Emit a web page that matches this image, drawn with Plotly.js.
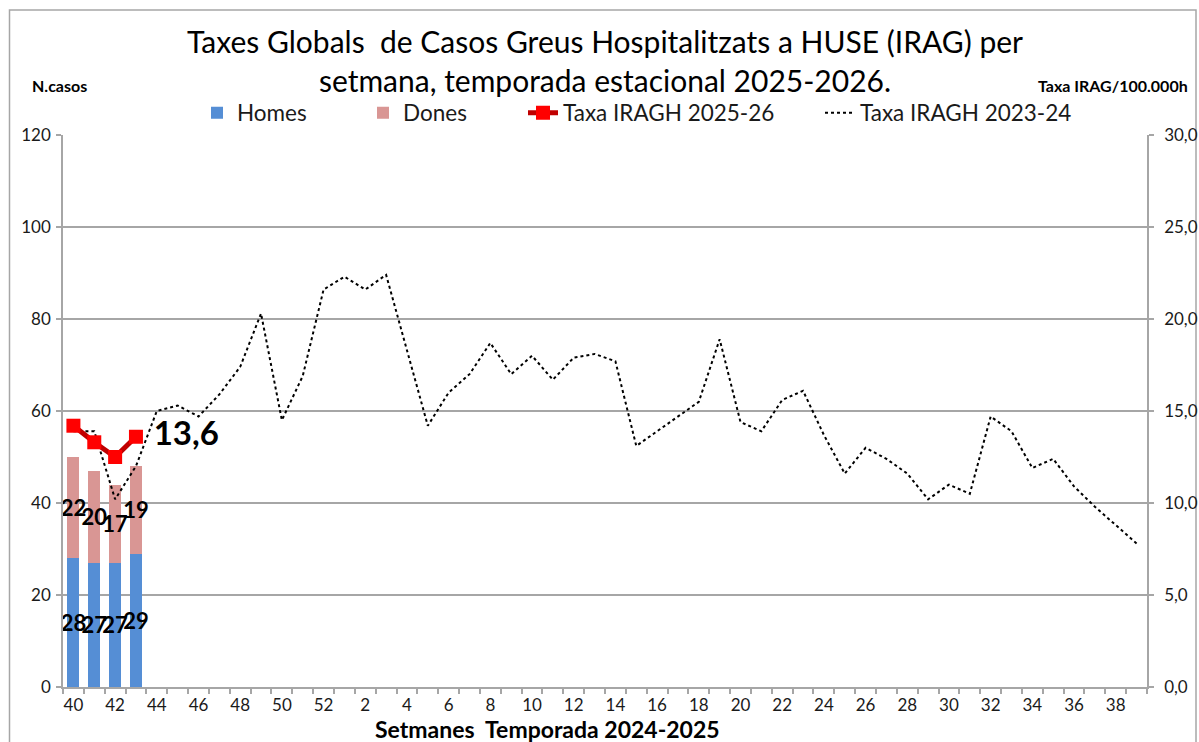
<!DOCTYPE html>
<html>
<head>
<meta charset="utf-8">
<script src="https://cdn.plot.ly/plotly-3.0.1.min.js"></script>
<style>
  html, body { margin: 0; padding: 0; background: #fff; }
  #chart { width: 1199px; height: 742px; }
</style>
</head>
<body>
<div id="chart"></div>
<script>
// ---- Data ----
const weeks = ['40','41','42','43','44','45','46','47','48','49','50','51','52',
  '1','2','3','4','5','6','7','8','9','10','11','12','13','14','15','16','17','18','19','20',
  '21','22','23','24','25','26','27','28','29','30','31','32','33','34','35','36','37','38','39'];
const weeksDone = ['40','41','42','43'];
const homes = [28, 27, 27, 29];
const dones = [22, 20, 17, 19];
const taxa2526 = [14.2, 13.3, 12.5, 13.6];
const taxa2324 = [13.9, 13.9, 10.2, 12.0, 15.0, 15.3, 14.7, 15.9, 17.4, 20.3, 14.5, 16.9, 21.6,
  22.3, 21.6, 22.4, 18.3, 14.2, 16.0, 17.0, 18.7, 17.0, 18.0, 16.7, 17.9, 18.1, 17.7, 13.1, 13.9,
  14.7, 15.5, 18.9, 14.4, 13.9, 15.6, 16.1, 13.7, 11.6, 13.0, 12.4, 11.6, 10.2, 11.0, 10.5, 14.7,
  13.9, 11.9, 12.4, 10.9, 9.8, 8.8, 7.8];
const tickLabels = weeks.map((w, i) => (i % 2 === 0 ? w : ''));

const FONT = 'Lato, "Open Sans", sans-serif';
const labelFont = { family: FONT, size: 22, color: '#000', weight: 'bold' };
const lastLabel = taxa2526.map((v, i) => i === taxa2526.length - 1 ? '\u00a0' + v.toFixed(1).replace('.', ',') : '');

const traces = [
  {
    type: 'bar', name: 'Homes', x: weeksDone, y: homes,
    marker: { color: '#558ed5' },
    text: homes.map(String), textposition: 'inside', insidetextanchor: 'middle',
    textangle: 0, constraintext: 'none', textfont: labelFont,
    legend: 'legend', hoverinfo: 'x+y'
  },
  {
    type: 'bar', name: 'Dones', x: weeksDone, y: dones,
    marker: { color: '#d99694' },
    text: dones.map(String), textposition: 'inside', insidetextanchor: 'middle',
    textangle: 0, constraintext: 'none', textfont: labelFont,
    legend: 'legend2', hoverinfo: 'x+y'
  },
  {
    type: 'scatter', mode: 'lines', name: 'Taxa IRAGH 2023-24', x: weeks, y: taxa2324,
    yaxis: 'y2', line: { color: '#000', width: 2, dash: 'dot' },
    legend: 'legend4'
  },
  {
    type: 'scatter', mode: 'lines+markers+text', name: 'Taxa IRAGH 2025-26', x: weeksDone, y: taxa2526,
    yaxis: 'y2', line: { color: '#c00000', width: 5 },
    marker: { symbol: 'square', size: 14, color: '#ff0000' },
    text: lastLabel, textposition: 'middle right',
    textfont: { family: FONT, size: 33, color: '#000', weight: 'bold' },
    legend: 'legend3'
  }
];

const gridCol = '#a6a6a6';
const tickFont = { family: FONT, size: 17, color: '#1a1a1a' };
function legendAt(xp) {
  return {
    orientation: 'h', x: (xp - 63) / 1084, xanchor: 'left', y: (687 - 113) / 552, yanchor: 'middle',
    font: { family: FONT, size: 22.5, color: '#1a1a1a' }, bgcolor: 'rgba(0,0,0,0)', borderwidth: 0
  };
}

const layout = {
  width: 1199, height: 742,
  margin: { l: 63, r: 52, t: 135, b: 55, pad: 0 },
  paper_bgcolor: '#fff', plot_bgcolor: '#fff',
  separators: ',.',
  barmode: 'stack', bargap: 0.42,
  showlegend: true,
  font: { family: FONT, color: '#1a1a1a' },
  title: {
    text: 'Taxes Globals  de Casos Greus Hospitalitzats a HUSE (IRAG) per<br>setmana, temporada estacional 2025-2026.',
    font: { family: FONT, size: 30, color: '#000' },
    x: 0.5, xref: 'paper', xanchor: 'center',
    y: 0.928, yref: 'container', yanchor: 'top'
  },
  xaxis: {
    type: 'category', categoryorder: 'array', categoryarray: weeks,
    tickvals: weeks, ticktext: tickLabels, tickson: 'boundaries',
    range: [-0.5, weeks.length - 0.5],
    ticks: 'outside', ticklen: 5, tickcolor: gridCol, tickwidth: 1.5,
    showline: true, linecolor: gridCol, linewidth: 1.5,
    showgrid: false, zeroline: false, tickfont: tickFont, tickangle: 0,
    ticklabelstandoff: 2
  },
  yaxis: {
    range: [0, 120], dtick: 20, tick0: 0,
    showgrid: true, gridcolor: gridCol, gridwidth: 1.5,
    showline: true, linecolor: gridCol, linewidth: 1.5,
    ticks: 'outside', ticklen: 5, tickcolor: gridCol, tickwidth: 1.5,
    zeroline: false, tickfont: tickFont, ticklabelstandoff: 2
  },
  yaxis2: {
    overlaying: 'y', side: 'right', range: [0, 30], dtick: 5, tick0: 0, tickformat: '.1f',
    showgrid: false, showline: true, linecolor: gridCol, linewidth: 1.5,
    ticks: 'outside', ticklen: 5, tickcolor: gridCol, tickwidth: 1.5,
    zeroline: false, tickfont: tickFont, ticklabelstandoff: 7
  },
  legend: legendAt(197),
  legend2: legendAt(363),
  legend3: legendAt(523),
  legend4: legendAt(820),
  annotations: [
    { text: '<b>N.casos</b>', xref: 'paper', yref: 'paper', x: (30 - 63) / 1084, y: (687 - 86) / 552,
      xanchor: 'left', yanchor: 'middle', showarrow: false, font: { family: FONT, size: 16, color: '#000' } },
    { text: '<b>Taxa IRAG/100.000h</b>', xref: 'paper', yref: 'paper', x: (1190 - 63) / 1084, y: (687 - 86) / 552,
      xanchor: 'right', yanchor: 'middle', showarrow: false, font: { family: FONT, size: 16, color: '#000' } },
    { text: '<b>Setmanes  Temporada 2024-2025</b>', xref: 'paper', yref: 'paper', x: (547 - 63) / 1084, y: (687 - 729) / 552,
      xanchor: 'center', yanchor: 'middle', showarrow: false, font: { family: FONT, size: 23, color: '#000' } }
  ],
  shapes: [
    { type: 'rect', xref: 'paper', yref: 'paper', layer: 'below',
      x0: (9.5 - 63) / 1084, x1: (1196 - 63) / 1084, y0: (687 - 760) / 552, y1: (687 - 10) / 552,
      line: { color: '#a6a6a6', width: 1.5 }, fillcolor: 'rgba(0,0,0,0)' }
  ]
};

Plotly.newPlot('chart', traces, layout, { displayModeBar: false, responsive: false });
</script>
</body>
</html>
